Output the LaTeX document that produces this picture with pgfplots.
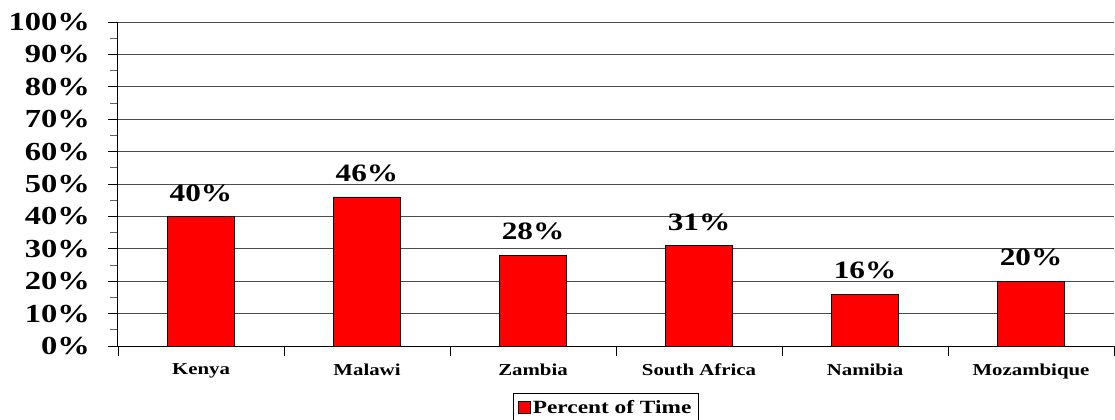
\documentclass[border=0pt]{standalone}
\usepackage{pgfplots}
\pgfplotsset{compat=1.18}
\usepackage{fontspec}
\setmainfont{Liberation Serif}[FakeStretch=1.25]
\begin{document}
\begin{tikzpicture}
\begin{axis}[
  at={(88.5pt,54.75pt)}, anchor=south west,
  scale only axis, width=747pt, height=243pt,
  xmin=-0.5, xmax=5.5, ymin=0, ymax=100,
  axis lines=left, axis line style={-, black, line width=0.75pt},
  ytick={0,10,...,100},
  yticklabels={0\%,10\%,20\%,30\%,40\%,50\%,60\%,70\%,80\%,90\%,100\%},
  minor y tick num=1,
  ymajorgrids, major grid style={black!70, line width=0.75pt},
  tick align=outside,
  major tick length=7.5pt, minor tick length=6pt,
  tick style={black, line width=0.75pt},
  minor tick style={black!60, line width=0.75pt},
  xtick={-0.5,0.5,...,5.5},
  xticklabels={Kenya,Malawi,Zambia,South Africa,Namibia,Mozambique,{}},
  xticklabel style={xshift=62.25pt, yshift=-2.5pt, font=\bfseries\fontsize{12.5}{14}\selectfont},
  major x tick style={line width=0.6pt},
  yticklabel style={xshift=-10pt, font=\bfseries\fontsize{19.5}{21}\selectfont},
  ybar, bar width=0.4,
  nodes near coords={\pgfmathprintnumber[assume math mode=true]{\pgfplotspointmeta}\%},
  nodes near coords style={font=\bfseries\fontsize{18.75}{20}\selectfont, anchor=south, inner sep=0pt, yshift=11pt, black},
  legend style={at={(0.3966,-0.145)}, anchor=north west, draw=black, line width=0.75pt,
    font=\bfseries\fontsize{14}{16}\selectfont, inner sep=3pt, legend cell align=left},
  legend image code/.code={\draw[fill=red,draw=black,line width=0.5pt] (3pt,-4.5pt) rectangle (12pt,4.5pt);},
]
\addplot[fill=red, draw=black, line width=0.6pt] coordinates {(0,40) (1,46) (2,28) (3,31) (4,16) (5,20)};
\addlegendentry{Percent of Time}
\end{axis}
\pgfresetboundingbox
\useasboundingbox (0,0) rectangle (836.25pt,314.25pt);
\end{tikzpicture}
\end{document}
